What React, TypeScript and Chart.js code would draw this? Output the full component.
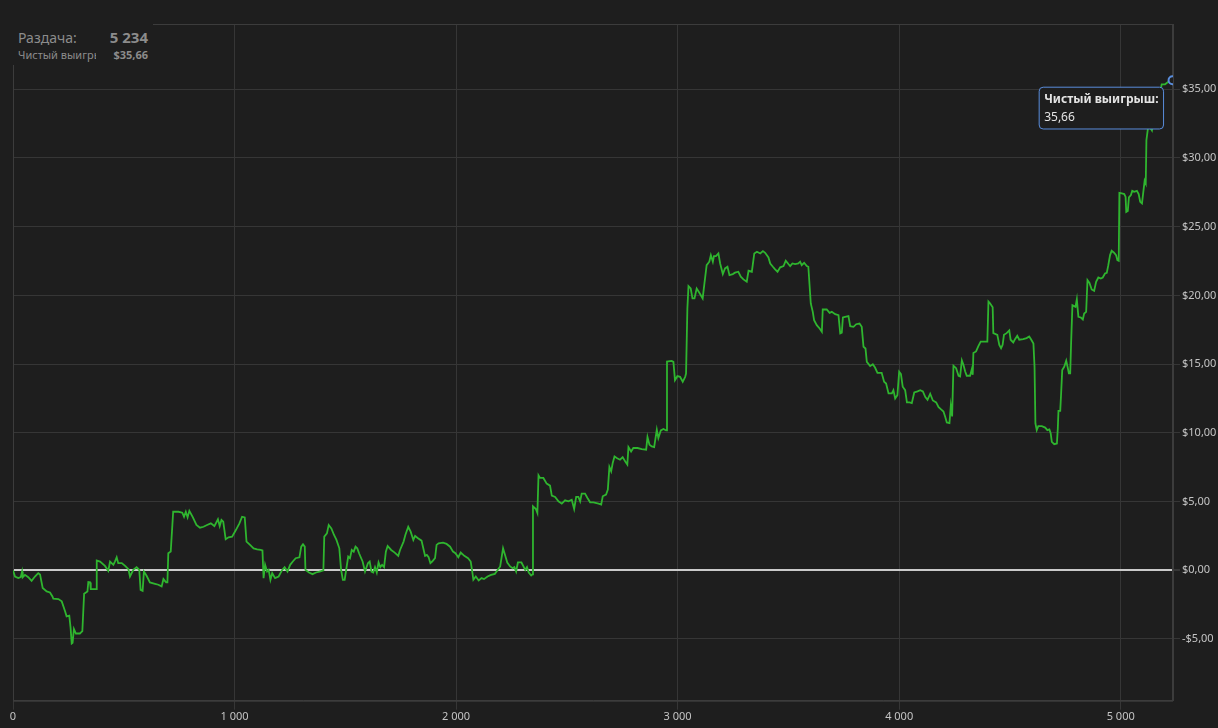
import React, { useEffect, useRef } from "react";
import { Chart, registerables, Tooltip } from "chart.js";

Chart.register(...registerables);

const hands: number[] = [
  0, 9, 24, 35, 41, 44, 54, 69, 84, 99, 114, 122, 134, 152, 167, 178, 182, 205, 220, 235,
  242, 254, 260, 265, 269, 275, 284, 302, 313, 321, 336, 340, 348, 351, 375, 378, 393, 415, 430, 438,
  453, 460, 468, 475, 491, 506, 521, 528, 543, 558, 570, 576, 585, 591, 603, 618, 641, 656, 671, 679,
  691, 697, 701, 712, 723, 747, 764, 772, 780, 788, 796, 812, 828, 844, 860, 876, 893, 909, 925, 933,
  941, 949, 960, 973, 989, 1006, 1022, 1034, 1046, 1054, 1070, 1086, 1102, 1118, 1126, 1131, 1138, 1147, 1154, 1162,
  1170, 1183, 1199, 1215, 1226, 1239, 1251, 1263, 1276, 1293, 1301, 1309, 1317, 1320, 1336, 1352, 1368, 1384, 1401, 1405,
  1417, 1425, 1437, 1449, 1460, 1473, 1481, 1489, 1497, 1505, 1513, 1521, 1529, 1538, 1546, 1554, 1562, 1578, 1589, 1602,
  1610, 1618, 1626, 1634, 1642, 1650, 1658, 1666, 1675, 1683, 1691, 1707, 1723, 1739, 1747, 1763, 1771, 1784, 1795, 1807,
  1815, 1828, 1844, 1852, 1860, 1868, 1876, 1884, 1892, 1905, 1912, 1921, 1941, 1957, 1973, 1986, 1997, 2010, 2021, 2037,
  2054, 2066, 2073, 2078, 2089, 2102, 2115, 2126, 2142, 2158, 2175, 2186, 2199, 2212, 2223, 2231, 2244, 2255, 2263, 2271,
  2279, 2295, 2303, 2312, 2320, 2328, 2339, 2345, 2347, 2360, 2367, 2372, 2379, 2394, 2409, 2424, 2432, 2447, 2462, 2477,
  2492, 2507, 2522, 2533, 2542, 2552, 2560, 2567, 2582, 2593, 2605, 2620, 2643, 2655, 2662, 2677, 2685, 2692, 2700, 2707,
  2715, 2725, 2740, 2752, 2763, 2773, 2778, 2790, 2800, 2819, 2838, 2858, 2864, 2873, 2883, 2894, 2906, 2913, 2924, 2936,
  2948, 2952, 2973, 2981, 2988, 2999, 3011, 3023, 3034, 3038, 3044, 3049, 3059, 3067, 3076, 3086, 3098, 3113, 3121, 3131,
  3143, 3150, 3159, 3164, 3173, 3184, 3192, 3204, 3214, 3225, 3234, 3249, 3259, 3274, 3285, 3297, 3312, 3320, 3335, 3346,
  3358, 3373, 3385, 3395, 3410, 3418, 3430, 3440, 3451, 3463, 3478, 3488, 3500, 3508, 3518, 3530, 3545, 3553, 3560, 3571,
  3583, 3590, 3601, 3610, 3616, 3628, 3641, 3651, 3655, 3673, 3686, 3696, 3711, 3726, 3734, 3741, 3746, 3756, 3771, 3779,
  3794, 3806, 3821, 3831, 3839, 3848, 3854, 3869, 3881, 3891, 3902, 3921, 3932, 3941, 3952, 3967, 3974, 3982, 3992, 4000,
  4008, 4016, 4027, 4035, 4047, 4057, 4068, 4083, 4095, 4107, 4118, 4128, 4140, 4152, 4167, 4178, 4188, 4200, 4208, 4215,
  4227, 4233, 4239, 4245, 4257, 4268, 4275, 4283, 4290, 4298, 4305, 4320, 4328, 4332, 4335, 4347, 4358, 4368, 4398, 4403,
  4410, 4422, 4425, 4433, 4443, 4452, 4460, 4467, 4473, 4485, 4497, 4503, 4515, 4523, 4533, 4542, 4560, 4575, 4587, 4595,
  4606, 4611, 4615, 4621, 4628, 4644, 4659, 4669, 4678, 4684, 4689, 4700, 4712, 4716, 4719, 4727, 4731, 4736, 4745, 4754,
  4760, 4766, 4772, 4776, 4782, 4790, 4796, 4802, 4809, 4820, 4829, 4835, 4844, 4850, 4859, 4869, 4880, 4889, 4899, 4910,
  4919, 4929, 4937, 4944, 4952, 4959, 4970, 4979, 4985, 4991, 4994, 5005, 5016, 5022, 5025, 5032, 5037, 5046, 5052, 5061,
  5073, 5081, 5088, 5096, 5103, 5108, 5113, 5116, 5125, 5141, 5160, 5181, 5185, 5200, 5215, 5234,
];

const winnings: number[] = [
  0, -0.46, -0.58, -0.51, -0.1, -0.51, -0.34, -0.51, -0.77, -0.46, -0.22, -0.31, -1.3, -1.55, -1.62, -1.91, -2.08, -2.1, -2.27, -2.99,
  -3.36, -3.31, -4.2, -5.34, -5.29, -4.28, -4.61, -4.61, -4.44, -1.72, -1.55, -0.87, -0.89, -1.38, -1.38, 0.7, 0.63, 0.31, -0.05, 0.63,
  0.39, 0.63, 0.94, 0.51, 0.51, 0.31, 0.07, -0.46, 0.02, 0.22, 0.02, -1.43, -1.5, -0.1, -0.41, -0.89, -0.99, -1.06, -1.18, -0.65,
  -0.89, -0.89, 1.23, 1.35, 4.25, 4.25, 4.18, 3.89, 4.25, 3.84, 4.32, 3.84, 3.29, 3.09, 3.16, 3.29, 3.41, 3.21, 3.7, 3.21,
  3.65, 3.53, 2.25, 2.39, 2.44, 2.92, 3.41, 3.89, 3.84, 2.08, 1.84, 1.59, 1.52, 1.47, 1.43, -0.58, 0.39, -0.1, 0.02, -0.7,
  -0.22, -0.58, -0.46, 0.02, 0.22, -0.1, 0.39, 0.63, 0.87, 0.94, 1.71, 1.88, 1.71, 0.02, -0.17, -0.29, -0.17, -0.1, -0.02, 2.44,
  2.68, 3.29, 3.04, 2.56, 2.2, 1.59, 0.02, -0.7, -0.7, 0.14, 0.99, 0.87, 1.47, 1.35, 1.71, 1.59, 1.23, 0.63, -0.1, 0.51,
  0.63, -0.1, -0.17, 0.22, -0.17, 0.56, 0.22, 0.39, 0.22, 1.35, 1.76, 1.47, 1.28, 1.04, 1.47, 2.08, 2.56, 3.16, 2.8, 2.2,
  2.49, 2.32, 2.15, 1.59, 1.04, 1.11, 0.94, 0.51, 0.63, 0.87, 1.84, 1.96, 2.0, 1.91, 1.71, 1.35, 1.23, 0.94, 1.28, 1.04,
  0.87, 0.63, -0.1, -0.7, -0.46, -0.75, -0.58, -0.65, -0.46, -0.34, -0.27, -0.02, 0.27, 1.59, 0.99, 0.56, 0.27, 0.14, 0.22, -0.1,
  0.56, 0.56, 0.31, 0.02, 0.22, -0.17, -0.39, -0.31, 4.65, 4.45, 4.16, 6.9, 6.71, 6.71, 6.3, 6.15, 5.42, 5.33, 5.01, 4.84,
  5.08, 5.01, 5.13, 4.46, 5.33, 5.33, 5.01, 5.57, 5.57, 5.25, 4.94, 4.94, 4.84, 4.77, 5.38, 5.5, 5.86, 7.51, 7.19, 7.8,
  8.28, 8.16, 8.04, 8.23, 7.92, 7.68, 8.96, 8.64, 8.89, 8.89, 8.81, 8.77, 9.69, 9.13, 9.01, 8.96, 10.22, 9.61, 10.17, 10.27,
  10.17, 15.18, 15.23, 15.16, 13.83, 14.12, 14.07, 13.71, 14.07, 14.31, 19.05, 20.67, 20.5, 19.78, 19.78, 20.5, 20.19, 19.78, 20.87, 22.2,
  22.45, 22.93, 22.45, 22.86, 22.86, 23.05, 22.32, 21.55, 21.96, 22.08, 21.47, 21.55, 21.65, 21.72, 21.36, 21.16, 20.99, 21.79, 21.72, 23.05,
  23.17, 23.05, 23.22, 23.1, 22.76, 22.32, 22.08, 21.89, 21.72, 22.04, 22.13, 22.52, 22.28, 22.13, 22.32, 22.28, 22.32, 22.45, 22.2, 22.37,
  22.13, 22.08, 19.41, 18.8, 18.2, 17.83, 17.59, 17.35, 18.97, 18.97, 18.73, 18.8, 18.63, 18.56, 17.23, 17.28, 18.39, 18.44, 18.49, 17.76,
  17.71, 17.9, 17.95, 17.71, 16.26, 16.13, 15.16, 14.85, 14.99, 14.75, 14.36, 14.36, 13.71, 13.59, 12.86, 12.86, 13.1, 12.5, 12.74, 14.44,
  14.27, 13.35, 13.1, 12.21, 12.21, 12.16, 12.93, 13.01, 13.1, 13.01, 12.6, 12.4, 12.84, 12.35, 12.21, 11.87, 11.72, 11.55, 11.14, 10.75,
  10.7, 11.96, 11.19, 14.88, 14.7, 14.15, 14.1, 15.26, 14.95, 14.46, 14.15, 14.15, 14.63, 14.22, 15.8, 15.92, 16.33, 16.64, 16.64, 19.55,
  19.43, 19.14, 17.25, 17.2, 17.13, 16.4, 16.16, 16.4, 17.13, 17.25, 17.45, 16.77, 16.57, 16.81, 17.06, 16.77, 16.81, 16.89, 17.01, 16.81,
  16.5, 14.8, 10.68, 10.19, 10.48, 10.48, 10.38, 10.19, 10.24, 9.95, 9.34, 9.17, 9.22, 10.31, 11.6, 11.6, 12.86, 14.56, 14.8, 15.24,
  14.8, 14.32, 14.32, 16.5, 19.29, 19.22, 19.17, 19.71, 18.44, 18.39, 18.25, 18.68, 18.8, 21.11, 20.91, 20.43, 20.33, 20.99, 21.3, 21.23,
  21.3, 21.59, 21.64, 22.2, 22.93, 23.24, 23.1, 22.93, 22.56, 22.51, 27.46, 27.42, 27.37, 27.17, 26.08, 26.15, 27.13, 27.3, 27.61, 27.54,
  27.61, 27.37, 26.81, 26.69, 27.66, 28.34, 28.15, 31.3, 32.4, 32.0, 33.8, 35.05, 35.36, 35.36, 35.54, 35.66,
];

const xTickValues: number[] = [0, 1000, 2000, 3000, 4000, 5000];
const yTickValues: number[] = [-5, 0, 5, 10, 15, 20, 25, 30, 35];
const xMin = 0;
const xMax = 5236;
const yMin = -9.5;
const yMax = 39.75;
const totalHands = 5234;
const netWin = 35.66;
const seriesLabel = "Чистый выигрыш";

const BG = "#1e1e1e";
const GRID = "#363636";
const FRAME = "#3c3c3c";
const GREEN = "#2fb52f";
const BLUE = "#5a8ddc";
const TICK_TXT = "#c4c4c4";
const FONT = '"Noto Sans", "Open Sans", sans-serif';

const fmtThousands = (v: number) => String(v).replace(/\B(?=(\d{3})+(?!\d))/g, " ");
const fmtMoney = (v: number) => (v < 0 ? "-" : "") + "$" + Math.abs(v).toFixed(2).replace(".", ",");

(Tooltip.positioners as any).besidePoint = function (elements: any[]) {
  if (!elements.length) return false;
  const el = elements[0].element;
  return { x: el.x - 13, y: el.y + 7, xAlign: "right", yAlign: "top" };
};

const framePlugin = {
  id: "frame",
  beforeDatasetsDraw(chart: any) {
    const { ctx, chartArea: a } = chart;
    ctx.save();
    ctx.strokeStyle = FRAME;
    ctx.lineWidth = 1;
    ctx.strokeRect(a.left + 0.5, a.top + 0.5, a.right - a.left - 1, a.bottom - a.top);
    ctx.restore();
  },
};

export default function App() {
  const ref = useRef<HTMLCanvasElement | null>(null);

  useEffect(() => {
    if (!ref.current) return;
    const points = hands.map((h, i) => ({ x: h, y: winnings[i] }));
    const chart = new Chart(ref.current, {
      type: "line",
      data: {
        datasets: [
          {
            label: seriesLabel,
            data: points,
            borderColor: GREEN,
            borderWidth: 1.8,
            pointRadius: 0,
            pointHoverRadius: 4,
            pointHoverBorderWidth: 2,
            pointHoverBorderColor: BLUE,
            pointHoverBackgroundColor: BG,
            tension: 0,
            fill: false,
          },
        ],
      },
      options: {
        responsive: false,
        animation: false,
        events: [],
        layout: { padding: { left: 13, top: 24, right: 0, bottom: 0 } },
        scales: {
          x: {
            type: "linear",
            min: xMin,
            max: xMax,
            afterFit: (s: any) => {
              s.height = 27.3;
            },
            afterBuildTicks: (s: any) => {
              s.ticks = xTickValues.map((v) => ({ value: v }));
            },
            ticks: {
              includeBounds: false,
              stepSize: 1000,
              color: TICK_TXT,
              padding: 1,
              maxRotation: 0,
              font: { family: FONT, size: 11 },
              callback: (v: any) => fmtThousands(Number(v)),
            },
            grid: { color: GRID, tickColor: GRID, tickLength: 9, lineWidth: 1 },
            border: { color: FRAME },
          },
          y: {
            type: "linear",
            position: "right",
            min: yMin,
            max: yMax,
            afterFit: (s: any) => {
              s.width = 45;
            },
            afterBuildTicks: (s: any) => {
              s.ticks = yTickValues.map((v) => ({ value: v }));
            },
            ticks: {
              includeBounds: false,
              stepSize: 5,
              color: TICK_TXT,
              padding: 2,
              font: { family: FONT, size: 11 },
              callback: (v: any) => fmtMoney(Number(v)),
            },
            grid: {
              color: (c: any) => (c.tick && c.tick.value === 0 ? "#cacaca" : GRID),
              lineWidth: (c: any) => (c.tick && c.tick.value === 0 ? 2 : 1),
              tickColor: GRID,
              tickLength: 7,
            },
            border: { color: FRAME },
          },
        },
        plugins: {
          legend: { display: false },
          tooltip: {
            enabled: true,
            position: "besidePoint" as any,
            xAlign: "right",
            yAlign: "top",
            caretSize: 0,
            caretPadding: 0,
            cornerRadius: 4,
            backgroundColor: BG,
            borderColor: BLUE,
            borderWidth: 1,
            displayColors: false,
            padding: { left: 5, right: 5, top: 5, bottom: 4 },
            titleMarginBottom: 4,
            titleColor: "#e4e4e4",
            bodyColor: "#e4e4e4",
            titleFont: { family: FONT, size: 12, weight: "bold" },
            bodyFont: { family: FONT, size: 12 },
            callbacks: {
              title: () => seriesLabel + ":",
              label: (c: any) => Number(c.parsed.y).toFixed(2).replace(".", ","),
            },
          },
        },
      },
      plugins: [framePlugin],
    });

    const idx = hands.length - 1;
    const el: any = chart.getDatasetMeta(0).data[idx];
    const active = [{ datasetIndex: 0, index: idx }];
    chart.setActiveElements(active);
    chart.tooltip?.setActiveElements(active, { x: el.x, y: el.y });
    chart.update();

    return () => chart.destroy();
  }, []);

  return (
    <div
      style={{
        position: "fixed",
        left: 0,
        top: 0,
        width: 1218,
        height: 728,
        background: BG,
        overflow: "hidden",
      }}
    >
      <canvas ref={ref} width={1218} height={728} style={{ display: "block" }} />
      <div
        style={{
          position: "absolute",
          left: 0,
          top: 0,
          width: 153,
          height: 65,
          background: BG,
          fontFamily: FONT,
          color: "#8c8c8c",
        }}
      >
        <div style={{ position: "absolute", left: 18, top: 28, fontSize: 14, lineHeight: "19px" }}>Раздача:</div>
        <div
          style={{
            position: "absolute",
            right: 5,
            top: 27,
            fontSize: 15,
            fontWeight: 700,
            lineHeight: "20px",
          }}
        >
          {fmtThousands(totalHands)}
        </div>
        <div
          style={{
            position: "absolute",
            left: 18,
            top: 47,
            width: 78,
            overflow: "hidden",
            whiteSpace: "nowrap",
            fontSize: 11,
            lineHeight: "15px",
          }}
        >
          {seriesLabel}
        </div>
        <div
          style={{
            position: "absolute",
            right: 5,
            top: 47,
            fontSize: 11,
            fontWeight: 700,
            lineHeight: "15px",
          }}
        >
          {fmtMoney(netWin)}
        </div>
      </div>
    </div>
  );
}
